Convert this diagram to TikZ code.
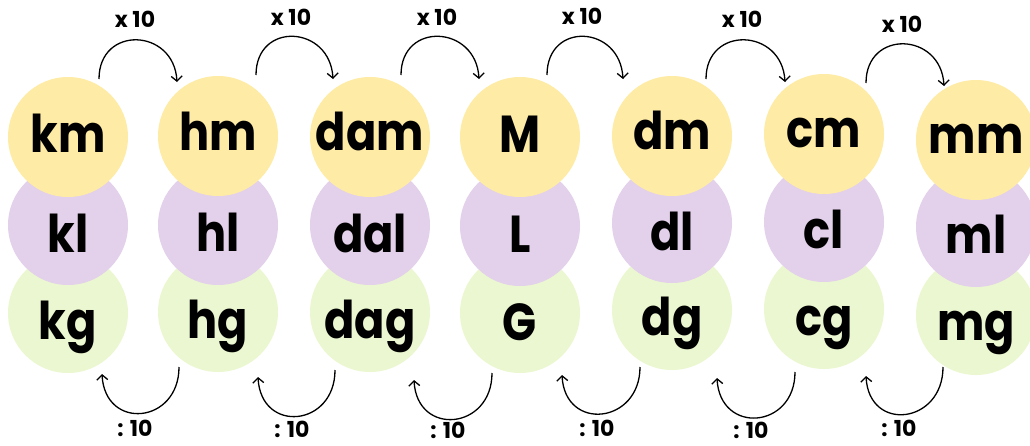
\documentclass[tikz,border=0pt]{standalone}
\usepackage{fontspec}
\setmainfont{Poppins}
\newfontfamily\unitfont{Poppins}[FakeStretch=0.86]
\usetikzlibrary{arrows.meta}
\definecolor{discY}{RGB}{254,235,165}
\definecolor{discP}{RGB}{227,208,234}
\definecolor{discG}{RGB}{235,247,208}
\begin{document}
\begin{tikzpicture}[x=1pt,y=-1pt,
  disc/.style={circle,minimum size=120pt,inner sep=0pt,draw=none},
  unit/.style={font=\unitfont\fontsize{52}{60}\selectfont\bfseries,anchor=base,inner sep=0pt},
  lab/.style={font=\fontsize{22}{26}\selectfont\bfseries,anchor=base,inner sep=0pt},
  arr/.style={-{Straight Barb[length=5pt,width=11pt]},line width=1.3pt}]
\useasboundingbox (0,0) rectangle (1030,445);
% circles: green, then purple, then yellow on top
\foreach \n/\x/\ya/\yb/\yc in {1/68/137/225/313,2/218/136/225/312,3/370/137/225/312,4/520/137/226/313,5/672/136/223/310,6/824/134/222/309,7/976/140/227/315}{
  \node[disc,fill=discG] (g\n) at (\x,\yc) {};
  \node[disc,fill=discP] (p\n) at (\x,\yb) {};
  \node[disc,fill=discY] (y\n) at (\x,\ya) {};
}
% unit texts
\foreach \n/\x/\ta/\tb/\tc/\la/\lb/\lc in {1/68/152/252/339/km/kl/kg,2/218/150/251/338/hm/hl/hg,3/370/150/252/338/dam/dal/dag,4/520/152/252/340/M/L/G,5/672/149/250/335/dm/dl/dg,6/824/147/248/335/cm/cl/cg,7/976/153/253/340/mm/ml/mg}{
  \node[unit] (ty\n) at (\x,\ta) {\la};
  \node[unit] (tp\n) at (\x,\tb) {\lb};
  \node[unit] (tg\n) at (\x,\tc) {\lc};
}
% top arrows (x 10)
\foreach \i/\sx/\sy/\ex/\ey/\lx/\ly in {1/99/79/177/82/135/27,2/256/75/333/79/291/25,3/401/75/479/79/437/25,4/547/75/623/79/582/24,5/706/79/785/82/742/27,6/866/83/944/86/902/32}{
  \coordinate (ts\i) at (\sx,\sy);
  \coordinate (te\i) at (\ex,\ey);
  \draw[arr] (ts\i) .. controls +(0,-54) and +(-3,-54) .. (te\i);
  \node[lab] (tl\i) at (\lx,\ly) {x 10};
}
% bottom arrows (: 10)
\foreach \i/\sx/\sy/\ex/\ey/\lx/\ly in {1/179/367/102/374/135/436,2/335/370/258/377/292/437,3/492/373/414/380/448/438,4/640/367/562/375/597/436,5/795/372/717/378/751/438,6/943/367/866/376/899/436}{
  \coordinate (bs\i) at (\sx,\sy);
  \coordinate (be\i) at (\ex,\ey);
  \draw[arr] (bs\i) .. controls +(0,57) and +(3,57) .. (be\i);
  \node[lab] (bl\i) at (\lx,\ly) {: 10};
}
\end{tikzpicture}
\end{document}
